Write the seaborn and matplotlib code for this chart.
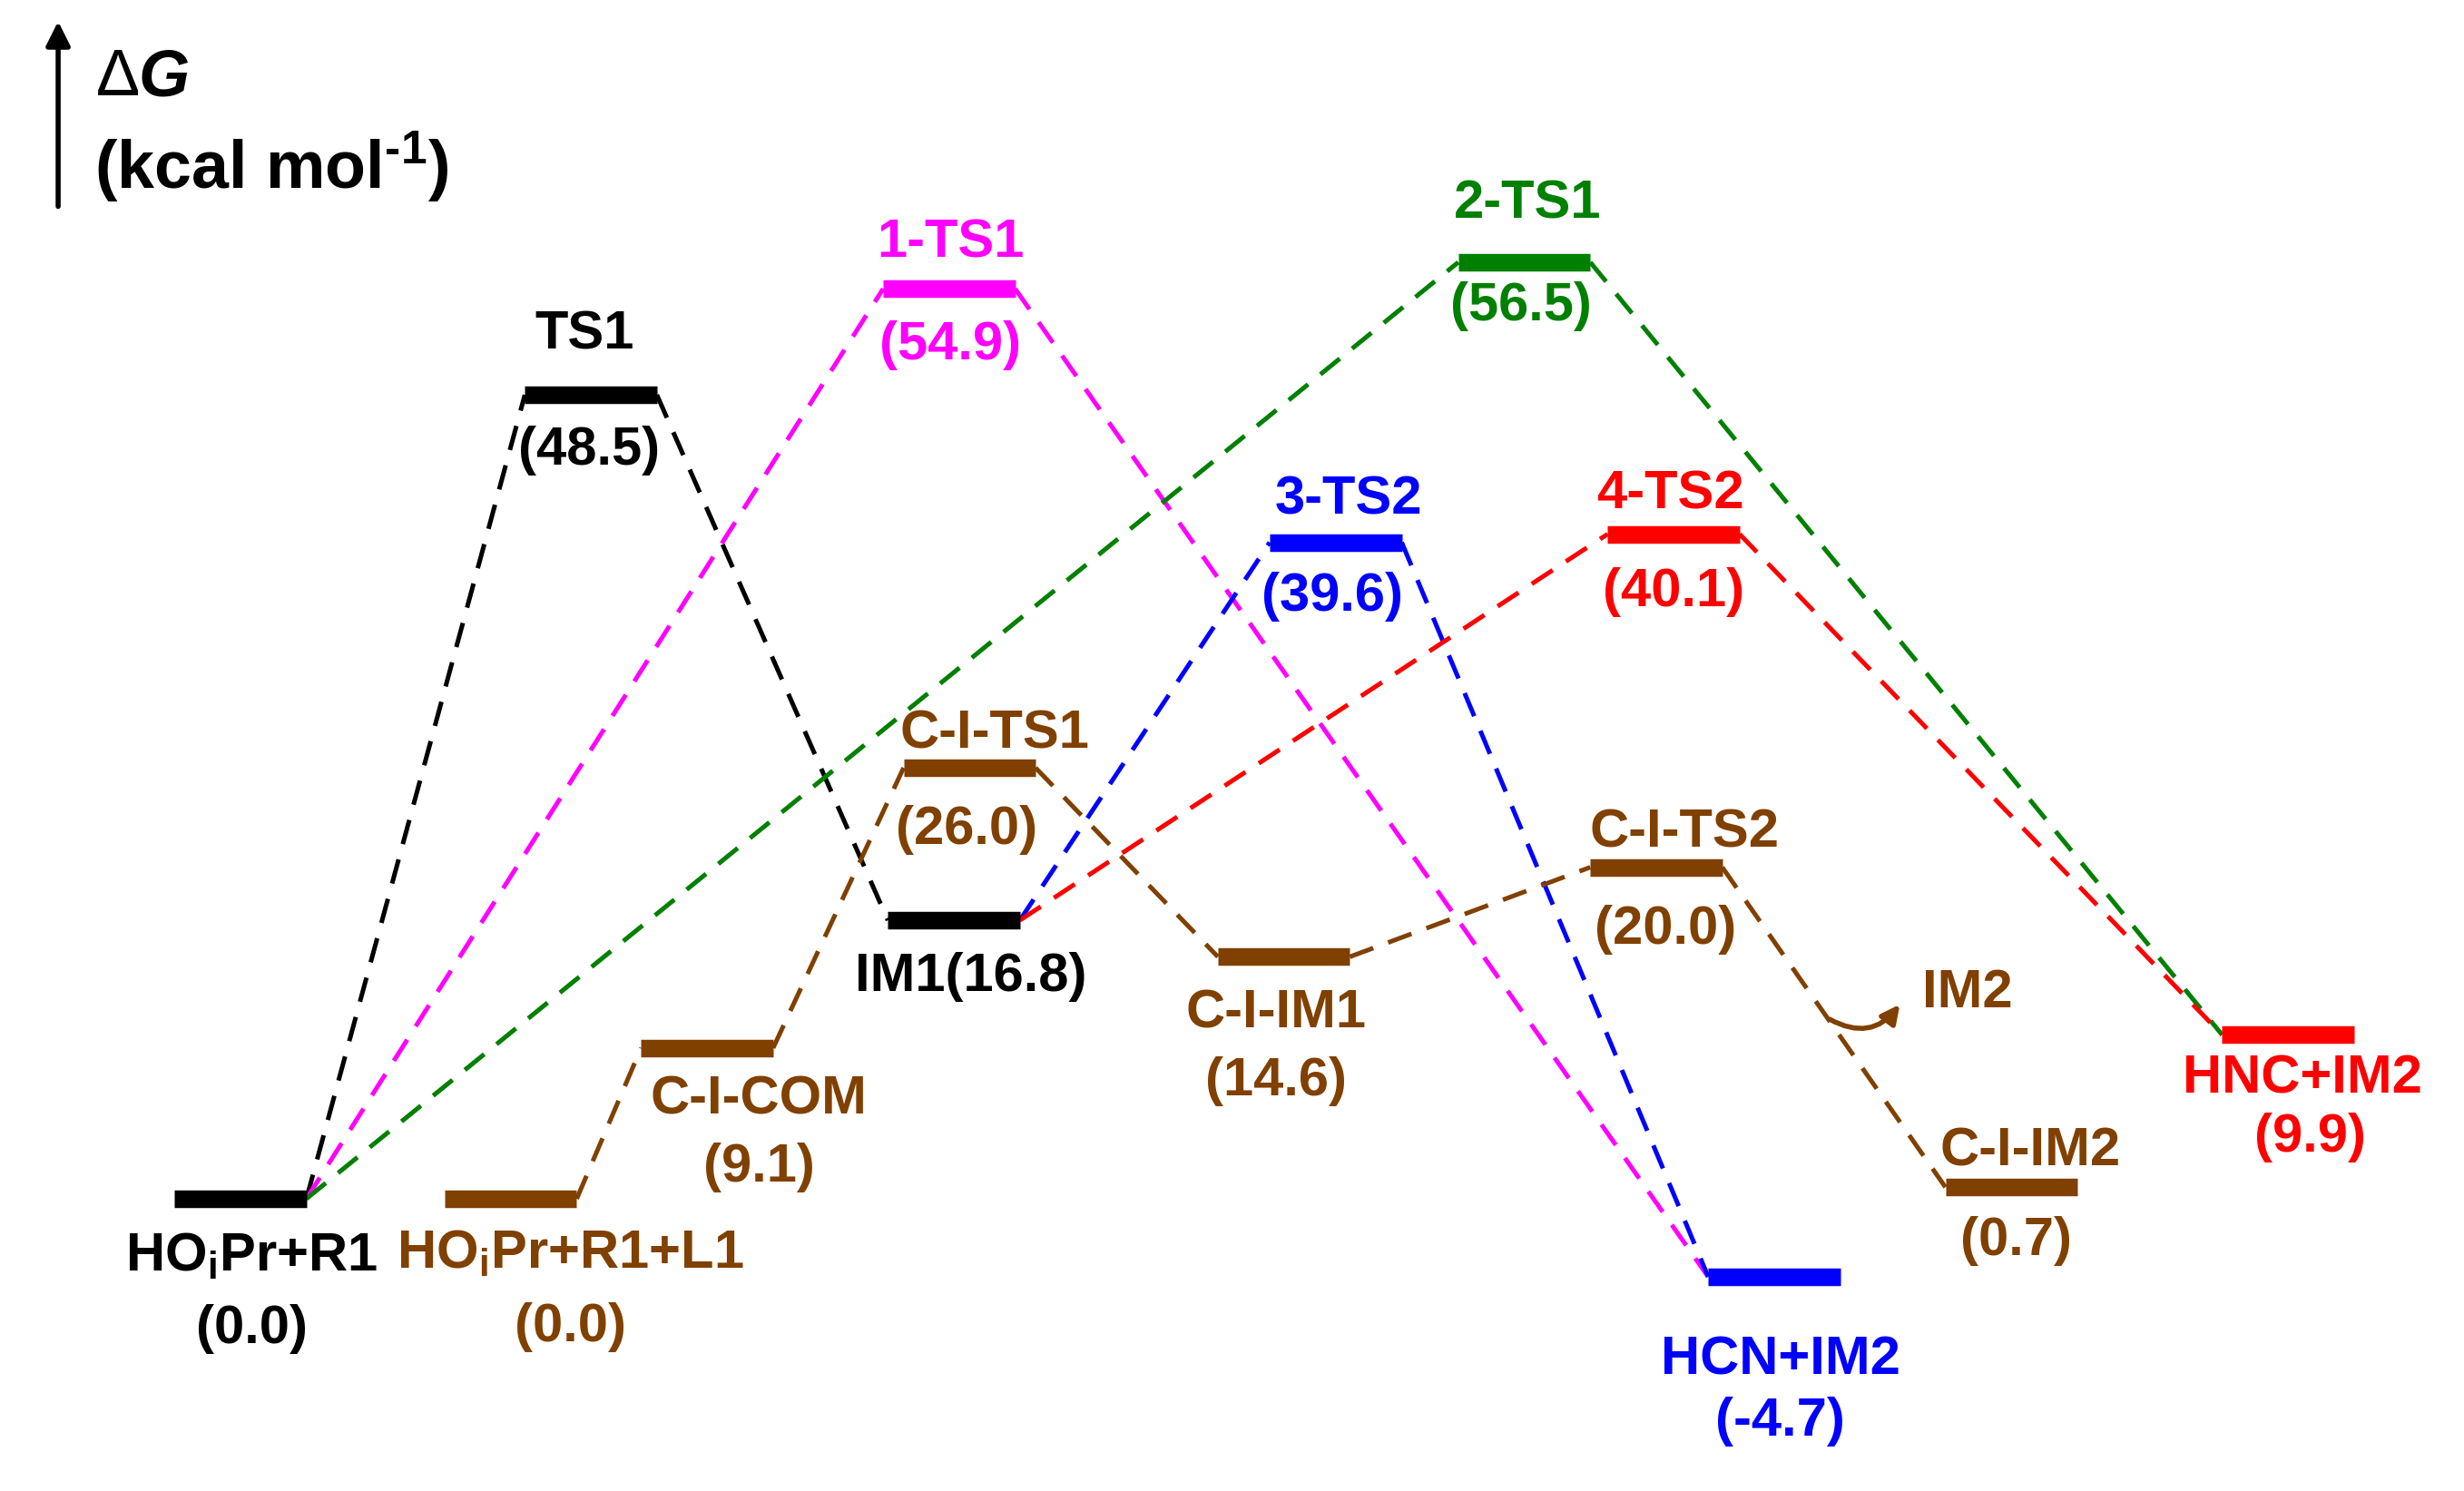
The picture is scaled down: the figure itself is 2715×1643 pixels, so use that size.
import matplotlib
matplotlib.use("Agg")
import matplotlib.pyplot as plt
from matplotlib.patches import FancyArrowPatch
import seaborn as sns
import pandas as pd

# energy levels (kcal/mol)
level_keys = ["HO", "TS1", "1-TS1", "2-TS1", "IM1", "3-TS2", "4-TS2", "HCN", "HNC",
              "L1", "COM", "CTS1", "CIM1", "CTS2", "CIM2"]
level_energy = [0.0, 48.5, 54.9, 56.5, 16.8, 39.6, 40.1, -4.7, 9.9,
                0.0, 9.1, 26.0, 14.6, 20.0, 0.7]
level_names = ["HO$_{\\mathbf{i}}$Pr+R1", "TS1", "1-TS1", "2-TS1", "IM1", "3-TS2", "4-TS2",
               "HCN+IM2", "HNC+IM2", "HO$_{\\mathbf{i}}$Pr+R1+L1", "C-I-COM", "C-I-TS1",
               "C-I-IM1", "C-I-TS2", "C-I-IM2"]
level_colors = ["black", "black", "#FF00FF", "#008000", "black", "#0000FF", "#FF0000",
                "#0000FF", "#FF0000", "#804000", "#804000", "#804000", "#804000",
                "#804000", "#804000"]

# pathways (sequence of levels) and their colours
paths = [["HO", "TS1", "IM1"],
         ["HO", "1-TS1", "HCN"],
         ["HO", "2-TS1", "HNC"],
         ["IM1", "3-TS2", "HCN"],
         ["IM1", "4-TS2", "HNC"],
         ["L1", "COM", "CTS1", "CIM1", "CTS2", "CIM2"]]
path_colors = ["black", "#FF00FF", "#008000", "#0000FF", "#FF0000", "#804000"]

# layout (horizontal centres of the levels, in 1568-wide layout units)
level_x = [153, 376, 604, 970, 607, 850, 1065, 1129, 1456,
           325, 450, 617, 817, 1054, 1280]
half_w = 42

# label layout: (x, y) centres in layout pixels for name and value text
name_pos = {"HO": (160, 800), "TS1": (372, 213), "1-TS1": (605, 155), "2-TS1": (972, 130),
            "3-TS2": (858, 318), "4-TS2": (1063, 315), "HCN": (1133, 866),
            "HNC": (1465, 687), "L1": (363, 798), "COM": (483, 700),
            "CTS1": (633, 467), "CIM1": (812, 645), "CTS2": (1072, 530), "CIM2": (1292, 733)}
value_pos = {"HO": (160, 846), "TS1": (375, 287), "1-TS1": (605, 220), "2-TS1": (968, 195),
             "3-TS2": (848, 380), "4-TS2": (1065, 377), "HCN": (1133, 905),
             "HNC": (1470, 724), "L1": (363, 845), "COM": (483, 743),
             "CTS1": (615, 528), "CIM1": (812, 688), "CTS2": (1060, 592), "CIM2": (1283, 790)}

Y0, SCALE, H = 763, 10.55, 949


def ypix(y):
    return (Y0 - y) / SCALE


sns.set_theme(style="white")
plt.rcParams["font.family"] = ["Liberation Sans", "DejaVu Sans"]
plt.rcParams["font.weight"] = "bold"
plt.rcParams["text.color"] = "black"
plt.rcParams["mathtext.fontset"] = "custom"
plt.rcParams["mathtext.rm"] = "Liberation Sans:bold"
plt.rcParams["mathtext.bf"] = "Liberation Sans:bold"
plt.rcParams["mathtext.it"] = "Liberation Sans:italic:bold"
plt.rcParams["mathtext.default"] = "rm"

fig = plt.figure(figsize=(27.15, 16.43), dpi=100)
ax = fig.add_axes([0, 0, 1, 1])
ax.set_xlim(0, 1568)
ax.set_ylim(ypix(H), ypix(0))
ax.axis("off")

xc = dict(zip(level_keys, level_x))
en = dict(zip(level_keys, level_energy))

# dashed connectors
rows = []
for pi, (p, c) in enumerate(zip(paths, path_colors)):
    for si in range(len(p) - 1):
        a, b = p[si], p[si + 1]
        seg = f"{pi}-{si}"
        rows.append({"seg": seg, "x": xc[a] + half_w, "E": en[a], "c": c})
        rows.append({"seg": seg, "x": xc[b] - half_w, "E": en[b], "c": c})
seg_df = pd.DataFrame(rows)
for c, sub in seg_df.groupby("c", sort=False):
    sns.lineplot(data=sub, x="x", y="E", units="seg", estimator=None, sort=False,
                 color=c, lw=3.6, dashes=False, ax=ax, legend=False,
                 linestyle=(0, (5.5, 3.5)))

# level bars
for k, e, c in zip(level_keys, level_energy, level_colors):
    ax.hlines(e, xc[k] - half_w, xc[k] + half_w, color=c, lw=14, zorder=3)

fs = 43
for k, nm, e, c in zip(level_keys, level_names, level_energy, level_colors):
    if k == "IM1":
        ax.text(618, ypix(622), f"IM1({e:.1f})", color=c, fontsize=fs,
                ha="center", va="center", fontweight="bold")
        continue
    x, y = name_pos[k]
    ax.text(x, ypix(y), nm, color=c, fontsize=fs, ha="center", va="center",
            fontweight="bold")
    x, y = value_pos[k]
    ax.text(x, ypix(y), f"({e:.1f})", color=c, fontsize=fs, ha="center", va="center",
            fontweight="bold")

# IM2 label with curved arrow
ax.text(1252, ypix(632), "IM2", color="#804000", fontsize=fs, ha="center", va="center",
        fontweight="bold")
ax.add_patch(FancyArrowPatch((1163, ypix(648)), (1210, ypix(638)),
                             connectionstyle="arc3,rad=0.45", arrowstyle="-|>",
                             mutation_scale=30, color="#804000", lw=4))

# axis arrow and label
ax.annotate("", xy=(37, ypix(12)), xytext=(37, ypix(133)),
            arrowprops=dict(arrowstyle="-|>", color="black", lw=4, mutation_scale=40))
ax.text(61, ypix(50), "\u0394", fontsize=52, ha="left", va="center", fontweight="normal",
        color="black")
ax.text(88, ypix(50), "G", fontsize=52, ha="left", va="center", fontweight="bold",
        fontstyle="italic", color="black")
ax.text(60, ypix(106), "(kcal mol$^{\\text{-1}}$)", fontsize=53, ha="left", va="center",
        fontweight="bold", color="black")

fig.savefig("out.png", dpi=100, facecolor="white")
